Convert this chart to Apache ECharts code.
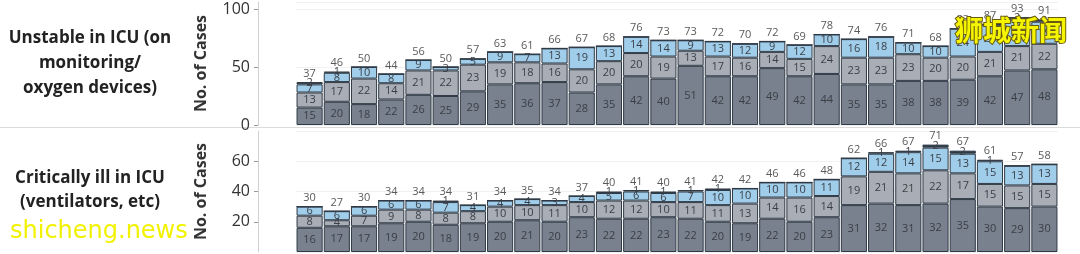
<!DOCTYPE html>
<html lang="en">
<head>
<meta charset="UTF-8">
<title>ICU cases</title>
<script src="https://cdn.jsdelivr.net/npm/echarts@6/dist/echarts.min.js"></script>
<style>
  html, body { margin: 0; padding: 0; background: #fff; }
  #chart { width: 1080px; height: 254px; }
</style>
</head>
<body>
<div id="chart"></div>
<script>
// one entry per day, 28 days
var days = [];
for (var i = 1; i <= 28; i++) days.push('D' + i);

// Unstable in ICU (on monitoring / oxygen devices)
var unstA = [15,20,18,22,26,25,29,35,36,37,28,35,42,40,51,42,42,49,42,44,35,35,38,38,39,42,47,48];
var unstB = [13,17,22,14,21,22,23,19,18,16,20,20,20,19,13,17,16,14,15,24,23,23,23,20,20,21,21,22];
var unstC = [7,8,10,8,9,3,5,9,7,13,19,13,14,14,9,13,12,9,12,10,16,18,10,10,24,23,23,19];
var unstD = [2,1,0,0,0,0,0,0,0,0,0,0,0,0,0,0,0,0,0,0,0,0,0,0,0,1,2,2];

// Critically ill in ICU (ventilators, etc)
var critA = [16,17,17,19,20,18,19,20,21,20,23,22,22,23,22,20,19,22,20,23,31,32,31,32,35,30,29,30];
var critB = [8,4,7,9,8,8,8,10,10,11,10,12,12,10,11,11,13,14,16,14,19,21,21,22,17,15,15,15];
var critC = [6,6,6,6,6,7,4,4,4,3,4,5,6,6,7,10,10,10,10,11,12,12,14,15,13,15,13,13];
var critD = [0,0,0,0,0,1,0,0,0,0,0,1,1,1,1,1,0,0,0,0,0,1,1,2,2,1,0,0];

var colA = '#78818d', colB = '#a9adb6', colC = '#a0cdea', colD = '#2e3d4e';

function sums(list) {
  var out = [];
  for (var i = 0; i < list[0].length; i++) {
    var s = 0;
    list.forEach(function (a) { s += a[i]; });
    out.push(s);
  }
  return out;
}

function seg(name, data, color, idx) {
  return {
    name: name, type: 'bar', stack: 's' + idx, data: data,
    xAxisIndex: idx, yAxisIndex: idx,
    barCategoryGap: '4%',
    itemStyle: { color: color, borderColor: '#2f3a46', borderWidth: 1 },
    label: {
      show: true, position: 'inside', color: '#3a3f46', fontSize: 11,
      fontFamily: 'Open Sans',
      formatter: function (p) { return p.value ? p.value : ''; }
    },
    silent: true
  };
}

function total(data, idx) {
  return {
    type: 'bar', data: data, xAxisIndex: idx, yAxisIndex: idx,
    barGap: '-100%', barCategoryGap: '4%', z: 1,
    itemStyle: { color: 'transparent' },
    label: { show: true, position: 'top', distance: 3, color: '#5a5a5a', fontSize: 11, fontFamily: 'Open Sans' },
    silent: true
  };
}

function yAx(idx, max, interval) {
  return {
    gridIndex: idx, type: 'value', min: 0, max: max, interval: interval,
    offset: 38,
    name: 'No. of Cases', nameLocation: 'middle', nameGap: 49,
    nameTextStyle: { fontSize: 16, fontWeight: 'bold', color: '#333', fontFamily: 'Open Sans' },
    axisLine: { show: true, lineStyle: { color: '#d0d0d0' } },
    axisTick: { show: true, length: 4, lineStyle: { color: '#999' } },
    axisLabel: { fontSize: 16, color: '#333', margin: 8, fontFamily: 'Open Sans',
      showMinLabel: idx === 0, showMaxLabel: false },
    splitLine: { show: true, lineStyle: { color: '#f1f1f1' } }
  };
}

var chart = echarts.init(document.getElementById('chart'));
chart.setOption({
  animation: false,
  grid: [
    { left: 296, width: 762, top: 2, height: 123 },
    { left: 296, width: 762, top: 131, height: 121 }
  ],
  xAxis: [
    { gridIndex: 0, type: 'category', data: days, axisLine: { show: false }, axisTick: { show: false }, axisLabel: { show: false } },
    { gridIndex: 1, type: 'category', data: days, axisLine: { show: false }, axisTick: { show: false }, axisLabel: { show: false } }
  ],
  yAxis: [yAx(0, 106, 50), yAx(1, 80, 20)],
  series: [
    seg('a', unstA, colA, 0), seg('b', unstB, colB, 0), seg('c', unstC, colC, 0), seg('d', unstD, colD, 0),
    total(sums([unstA, unstB, unstC, unstD]), 0),
    seg('a', critA, colA, 1), seg('b', critB, colB, 1), seg('c', critC, colC, 1), seg('d', critD, colD, 1),
    total(sums([critA, critB, critC, critD]), 1)
  ],
  graphic: [
    { type: 'line', shape: { x1: 0, y1: 127.5, x2: 1080, y2: 127.5 }, style: { stroke: '#dcdcdc', lineWidth: 1 } },
    { type: 'text', x: 90, y: 26, style: {
        text: 'Unstable in ICU (on\nmonitoring/\noxygen devices)', align: 'center',
        font: 'bold 17px "Open Sans"', fill: '#222', lineHeight: 25 } },
    { type: 'text', x: 90, y: 166, style: {
        text: 'Critically ill in ICU\n(ventilators, etc)', align: 'center',
        font: 'bold 17px "Open Sans"', fill: '#222', lineHeight: 24 } },
    { type: 'text', x: 10, y: 220, z: 100, style: {
        text: 'shicheng.news', font: '24px "DejaVu Sans"', fill: '#f2f200' } },
    { type: 'text', x: 955, y: 16, z: 100, style: {
        text: '狮城新闻', font: 'bold 28px "Noto Sans CJK SC"', fill: '#f5f500',
        stroke: '#6a5a10', lineWidth: 2 } }
  ]
});
</script>
</body>
</html>
